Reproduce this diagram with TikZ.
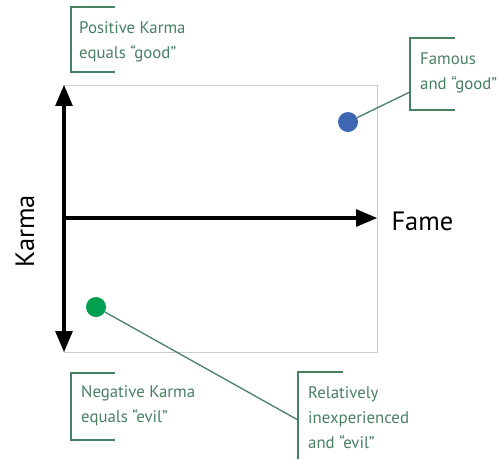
\documentclass[tikz,border=0pt]{standalone}
\usepackage{fontspec}
\setmainfont{PT Sans}
\usepackage{tikz}
\usetikzlibrary{arrows}
\definecolor{leafgreen}{RGB}{72, 128, 98}
\definecolor{dotblue}{RGB}{62, 102, 178}
\definecolor{dotgreen}{RGB}{0, 160, 80}
\definecolor{frame}{RGB}{205, 205, 205}

\begin{document}
\begin{tikzpicture}[x=1pt, y=-1pt,
    axis/.style={line width=4pt, black},
    bracket/.style={leafgreen, line width=1.6pt},
    note/.style={text=leafgreen, font=\fontsize{16.8}{25}\selectfont, align=left, anchor=west, inner sep=0pt},
    dot/.style={circle, minimum size=20pt, inner sep=0pt}]
            \useasboundingbox (0,0) rectangle (502,459);
            % plot area and axes
            \draw[frame, line width=0.8pt]                            (64,85) rectangle (377,352);
            \coordinate (karmatop) at (64,85);
            \coordinate (karmabot) at (64,352);
            \coordinate (origin)   at (64,218);
            \coordinate (fameend)  at (377,218);
            \draw[axis, triangle 45-triangle 45] (karmabot) -- (karmatop);
            \draw[axis, -triangle 45]            (origin) -- (fameend);
            \node[anchor=west, font=\fontsize{26.5}{30}\selectfont] (fame) at (388,221) {Fame};
            \node[rotate=90, font=\fontsize{26.5}{30}\selectfont] (karma) at (25,231) {Karma};
            % points
            \node[dot, fill=dotblue]  (famousgood) at (348,122) {};
            \node[dot, fill=dotgreen] (newevil)    at (96,307)  {};
            % callouts
            \draw[bracket] (115,7) -- (71,7) -- (71,72) -- (115,72);
            \node[note] (posk) at (79,42) {Positive Karma\\equals “good”};
            \draw[bracket] (455,38) -- (410,38) -- (410,110) -- (455,110);
            \coordinate (famousin) at (410,92);
            \node[note] (famous) at (420,73) {Famous\\and “good”};
            \draw[bracket] (115,373) -- (71,373) -- (71,440) -- (115,440);
            \node[note] (negk) at (81,406) {Negative Karma\\equals “evil”};
            \draw[bracket] (343,372) -- (298,372) -- (298,459);
            \coordinate (relin) at (298,420);
            \node[note] (rel) at (308,418) {Relatively\\inexperienced\\and “evil”};
            \draw[bracket, line width=1.3pt] (famousgood) -- (famousin);
            \draw[bracket, line width=1.3pt] (newevil) -- (relin);
\end{tikzpicture}
\end{document}
